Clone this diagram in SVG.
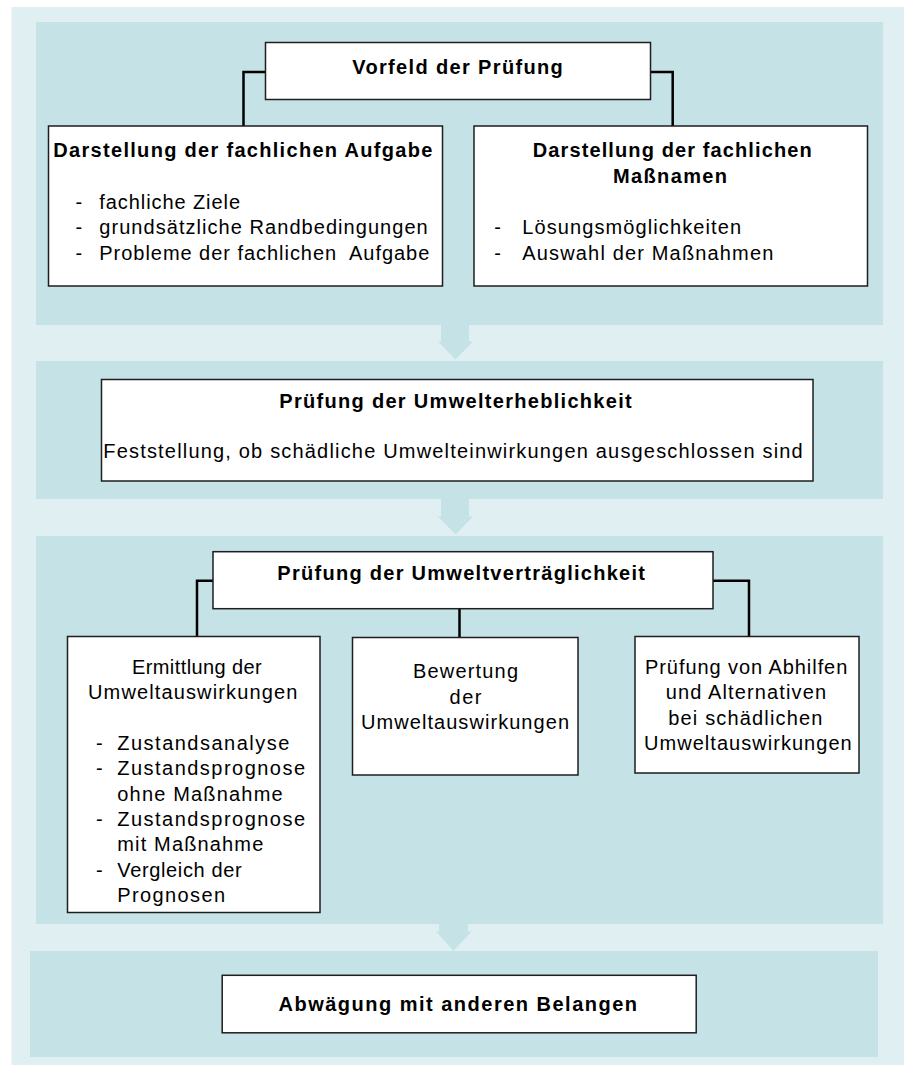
<svg xmlns="http://www.w3.org/2000/svg" width="909" height="1065" viewBox="0 0 909 1065">
<style>
.outer{fill:#e0eff1}
.panel{fill:#c5e2e6}
.box{fill:#ffffff;stroke:#1e1e1e;stroke-width:1.5}
.con{fill:none;stroke:#000000;stroke-width:2.5}
.flow{fill:#c5e2e6;stroke:none}
text{font-family:"Liberation Sans",Arial,sans-serif;font-size:20px;fill:#000000}
.b{font-weight:bold}
.p{white-space:pre}
</style>
<rect class="outer" x="11.5" y="7" width="892.5" height="1058"/>
<g id="panels">
<rect class="panel" x="36" y="22" width="847" height="303"/>
<rect class="panel" x="36" y="361" width="847" height="138"/>
<rect class="panel" x="36" y="536" width="847" height="388"/>
<rect class="panel" x="30" y="951" width="848" height="106"/>
</g>
<g id="connectors">
<polygon class="flow" points="441,324 469,324 469,341.5 473,341.5 455.5,359.5 438,341.5 441,341.5"/>
<polygon class="flow" points="441,498 469,498 469,516.5 473,516.5 455.5,534.5 438,516.5 441,516.5"/>
<polygon class="flow" points="439,923 468,923 468,931.5 471.5,931.5 453.5,950.7 436,931.5 439,931.5"/>
<path class="con" d="M265.5,72 H243.5 V126"/>
<path class="con" d="M650.4,72 H672.7 V126"/>
<path class="con" d="M213,580.7 H197 V636.5"/>
<path class="con" d="M713,580.7 H749 V636.5"/>
<path class="con" d="M459.5,608.5 V637.5"/>
</g>
<g id="vorfeld">
<rect class="box" x="265.5" y="42.5" width="385" height="57"/>
<text class="b" x="352.2" y="74" textLength="210.6" lengthAdjust="spacing">Vorfeld der Prüfung</text>
</g>
<g id="aufgabe">
<rect class="box" x="48.5" y="126" width="394" height="160"/>
<text class="b" x="53.3" y="156.5" textLength="379" lengthAdjust="spacing">Darstellung der fachlichen Aufgabe</text>
<text x="75.5" y="208.5">-</text>
<text x="99.3" y="208.5" textLength="140.7" lengthAdjust="spacing">fachliche Ziele</text>
<text x="75.5" y="234">-</text>
<text x="99.3" y="234" textLength="328.4" lengthAdjust="spacing">grundsätzliche Randbedingungen</text>
<text x="75.5" y="259.5">-</text>
<text class="p" x="99.3" y="259.5" textLength="330" lengthAdjust="spacing">Probleme der fachlichen  Aufgabe</text>
</g>
<g id="massnamen">
<rect class="box" x="474" y="126" width="393.5" height="160"/>
<text class="b" x="532.7" y="156.5" textLength="279" lengthAdjust="spacing">Darstellung der fachlichen</text>
<text class="b" x="613" y="183" textLength="114" lengthAdjust="spacing">Maßnamen</text>
<text x="494.3" y="234">-</text>
<text x="522.3" y="234" textLength="218.7" lengthAdjust="spacing">Lösungsmöglichkeiten</text>
<text x="494.3" y="259.5">-</text>
<text x="522.3" y="259.5" textLength="251" lengthAdjust="spacing">Auswahl der Maßnahmen</text>
</g>
<g id="erheblichkeit">
<rect class="box" x="101.5" y="379.5" width="711.5" height="101.5"/>
<text class="b" x="279.3" y="408" textLength="352.4" lengthAdjust="spacing">Prüfung der Umwelterheblichkeit</text>
<text x="103.3" y="457.5" textLength="699.4" lengthAdjust="spacing">Feststellung, ob schädliche Umwelteinwirkungen ausgeschlossen sind</text>
</g>
<g id="vertraeglichkeit">
<rect class="box" x="213" y="551.7" width="500" height="57"/>
<text class="b" x="277.3" y="579.5" textLength="367.7" lengthAdjust="spacing">Prüfung der Umweltverträglichkeit</text>
</g>
<g id="ermittlung">
<rect class="box" x="67.5" y="636.5" width="252.5" height="276"/>
<text x="132" y="673.5" textLength="129.7" lengthAdjust="spacing">Ermittlung der</text>
<text x="88" y="698.5" textLength="209.3" lengthAdjust="spacing">Umweltauswirkungen</text>
<text x="96" y="750">-</text>
<text x="117.3" y="750" textLength="172" lengthAdjust="spacing">Zustandsanalyse</text>
<text x="96" y="775.3">-</text>
<text x="117.3" y="775.3" textLength="187.7" lengthAdjust="spacing">Zustandsprognose</text>
<text x="117.3" y="800.6" textLength="165.3" lengthAdjust="spacing">ohne Maßnahme</text>
<text x="96" y="825.9">-</text>
<text x="117.3" y="825.9" textLength="187.7" lengthAdjust="spacing">Zustandsprognose</text>
<text x="117.3" y="851.2" textLength="146" lengthAdjust="spacing">mit Maßnahme</text>
<text x="96" y="876.5">-</text>
<text x="117.3" y="876.5" textLength="124.4" lengthAdjust="spacing">Vergleich der</text>
<text x="117.3" y="901.8" textLength="107.7" lengthAdjust="spacing">Prognosen</text>
</g>
<g id="bewertung">
<rect class="box" x="352.5" y="637.5" width="225.5" height="137.5"/>
<text x="413" y="678" textLength="105" lengthAdjust="spacing">Bewertung</text>
<text x="449.5" y="703.5" textLength="32" lengthAdjust="spacing">der</text>
<text x="361" y="729" textLength="208" lengthAdjust="spacing">Umweltauswirkungen</text>
</g>
<g id="abhilfen">
<rect class="box" x="635" y="636.5" width="224" height="136.5"/>
<text x="645" y="673.5" textLength="202.3" lengthAdjust="spacing">Prüfung von Abhilfen</text>
<text x="665.7" y="699" textLength="160.3" lengthAdjust="spacing">und Alternativen</text>
<text x="668.3" y="724.5" textLength="154" lengthAdjust="spacing">bei schädlichen</text>
<text x="644" y="750" textLength="207.7" lengthAdjust="spacing">Umweltauswirkungen</text>
</g>
<g id="abwaegung">
<rect class="box" x="222.2" y="975.3" width="474" height="57.5"/>
<text class="b" x="278.5" y="1011" textLength="358.5" lengthAdjust="spacing">Abwägung mit anderen Belangen</text>
</g>
</svg>
